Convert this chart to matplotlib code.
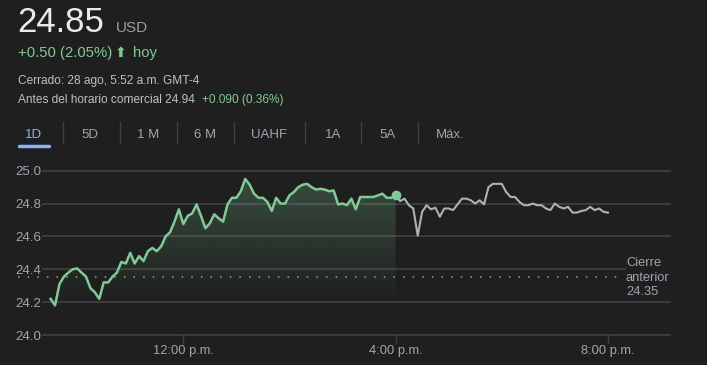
import numpy as np
import matplotlib
matplotlib.use("Agg")
import matplotlib.pyplot as plt
from matplotlib.patches import Polygon

plt.rcParams["font.family"] = ["Liberation Sans", "DejaVu Sans"]

# ── data (5-minute bars) ────────────────────────────────────────────────────
session_start = 9.5      # 9:30 a.m.
after_start = 16.0       # 4:00 p.m.
step_h = 5 / 60

regular_prices = [
    24.22, 24.18, 24.31, 24.355, 24.38, 24.40, 24.405, 24.38, 24.355, 24.285,
    24.26, 24.22, 24.32, 24.32, 24.355, 24.38, 24.445, 24.435, 24.50, 24.435,
    24.48, 24.45, 24.51, 24.53, 24.51, 24.54, 24.60, 24.625, 24.69, 24.765,
    24.675, 24.725, 24.74, 24.795, 24.725, 24.65, 24.68, 24.735, 24.71, 24.69,
    24.795, 24.835, 24.835, 24.875, 24.95, 24.915, 24.86, 24.835, 24.835, 24.81,
    24.755, 24.835, 24.80, 24.80, 24.85, 24.87, 24.90, 24.915, 24.92, 24.90,
    24.885, 24.89, 24.885, 24.875, 24.88, 24.795, 24.80, 24.79, 24.83, 24.765,
    24.84, 24.84, 24.84, 24.84, 24.85, 24.86, 24.835, 24.835, 24.85,
]
after_prices = [
    24.85, 24.815, 24.83, 24.79, 24.77, 24.605, 24.75, 24.79, 24.765, 24.775,
    24.72, 24.77, 24.77, 24.76, 24.795, 24.83, 24.83, 24.82, 24.80, 24.82,
    24.795, 24.90, 24.92, 24.92, 24.92, 24.87, 24.84, 24.84, 24.81, 24.79,
    24.79, 24.80, 24.79, 24.79, 24.77, 24.76, 24.80, 24.78, 24.77, 24.78,
    24.745, 24.745, 24.755, 24.76, 24.78, 24.76, 24.77, 24.75, 24.745,
]
prev_close = 24.35
y_ticks = [24.0, 24.2, 24.4, 24.6, 24.8, 25.0]
x_ticks = [12, 16, 20]
x_labels = ["12:00 p.m.", "4:00 p.m.", "8:00 p.m."]
tabs = ["1D", "5D", "1 M", "6 M", "UAHF", "1A", "5A", "Máx."]
tab_x = [34, 90, 148, 205, 269, 333, 388, 450]

BG = "#1f1f1f"
GREEN = "#81c995"
GREY_LINE = "#aeb1b5"
GRID = "#3c4043"
TICK = "#9ea6b2"
W, H = 707, 365

t_reg = session_start + np.arange(len(regular_prices)) * step_h
t_aft = after_start + np.arange(len(after_prices)) * step_h

fig = plt.figure(figsize=(W / 100, H / 100), dpi=100, facecolor=BG)

def px(x, y):
    return x / W, 1 - y / H

# ── header ──────────────────────────────────────────────────────────────────
fig.text(*px(17, 32), "24.85", color="#e8eaed", fontsize=25, va="baseline")
fig.text(*px(116, 32), "USD", color="#9aa0a6", fontsize=11, va="baseline")
fig.text(*px(18, 57), "+0.50 (2.05%)", color=GREEN, fontsize=10.7, va="baseline")
fig.text(*px(115, 57), "⬆", color=GREEN, fontsize=10, fontweight="bold",
         va="baseline", family="DejaVu Sans")
fig.text(*px(133, 57), "hoy", color=GREEN, fontsize=10.7, va="baseline")
fig.text(*px(18, 84), "Cerrado: 28 ago, 5:52 a.m. GMT-4", color="#bdc1c6",
         fontsize=8.6, va="baseline")
fig.text(*px(18, 103), "Antes del horario comercial 24.94", color="#bdc1c6",
         fontsize=8.6, va="baseline")
fig.text(*px(202, 103), "+0.090 (0.36%)", color=GREEN, fontsize=8.6, va="baseline")

# tabs
for i, (lab, xc) in enumerate(zip(tabs, tab_x)):
    fig.text(*px(xc, 138), lab, color="#8ab4f8" if i == 0 else TICK,
             fontsize=9.5, ha="center", va="baseline")
for xs in [62.5, 119.5, 176.5, 233.5, 304.5, 361.5, 418.5]:
    fig.add_artist(plt.Line2D([xs / W] * 2, [1 - 122 / H, 1 - 143 / H],
                              color=GRID, lw=1))
fig.add_artist(plt.Line2D([19 / W, 49 / W], [1 - 146 / H] * 2,
                          color="#8ab4f8", lw=2.5, solid_capstyle="round"))

# ── chart ───────────────────────────────────────────────────────────────────
x0, x1 = 43, 670
y_top, y_bot = 170.7, 335
ax = fig.add_axes([x0 / W, 1 - y_bot / H, (x1 - x0) / W, (y_bot - y_top) / H])
ax.set_facecolor(BG)
h_per_px = 4 / (609 - 396.7)
xlim = (12 - (183.3 - x0) * h_per_px, 12 + (x1 - 183.3) * h_per_px)
for s in ax.spines.values():
    s.set_visible(False)

label_frac = (625 - x0) / (x1 - x0)
for yv in y_ticks:
    xmax = label_frac if yv == 24.4 else 1.0
    ax.axhline(yv, xmax=xmax, color=GRID, lw=1.3, zorder=1, clip_on=False)

ax.set_yticks(y_ticks)
ax.set_yticklabels([f"{v:.1f}" for v in y_ticks])
ax.tick_params(axis="y", length=0, pad=1, labelsize=9.6, labelcolor=TICK)
ax.set_xticks(x_ticks)
ax.set_xticklabels(x_labels)
ax.tick_params(axis="x", length=6, width=1, color=GRID, pad=1,
               labelsize=9.3, labelcolor=TICK)

# gradient fill under regular session
verts = [(t_reg[0], 24.0)] + list(zip(t_reg, regular_prices)) + [(t_reg[-1], 24.0)]
poly = Polygon(verts, closed=True, facecolor="none", edgecolor="none")
ax.add_patch(poly)
grad = np.zeros((100, 1, 4))
grad[..., :3] = matplotlib.colors.to_rgb(GREEN)
grad[:, 0, 3] = np.clip(np.linspace(0.28, -0.06, 100), 0, 1)
im = ax.imshow(grad, extent=[t_reg[0], t_reg[-1], 24.0, 25.0], aspect="auto",
               origin="upper", zorder=2, interpolation="bilinear")
im.set_clip_path(poly)
ax.set_xlim(*xlim)
ax.set_ylim(24.0, 25.0)

# previous close
ax.plot([xlim[0] - 25 * h_per_px, 12 + (623 - 183.3) * h_per_px],
        [prev_close] * 2, color="#9aa0a6", lw=1.1, linestyle=(0, (1, 5.3)),
        zorder=3, clip_on=False)
ax.text(12 + (626 - 183.3) * h_per_px, 24.475, "Cierre\nanterior\n24.35",
        color=TICK, fontsize=9.3, va="top", ha="left", linespacing=1.3)

ax.plot(t_aft, after_prices, color=GREY_LINE, lw=1.5, zorder=4)
ax.plot(t_reg, regular_prices, color=GREEN, lw=1.8, zorder=5)
ax.plot(t_reg[-1], regular_prices[-1], "o", color=GREEN, ms=6, zorder=6)

fig.savefig("out.png", dpi=100, facecolor=BG)
